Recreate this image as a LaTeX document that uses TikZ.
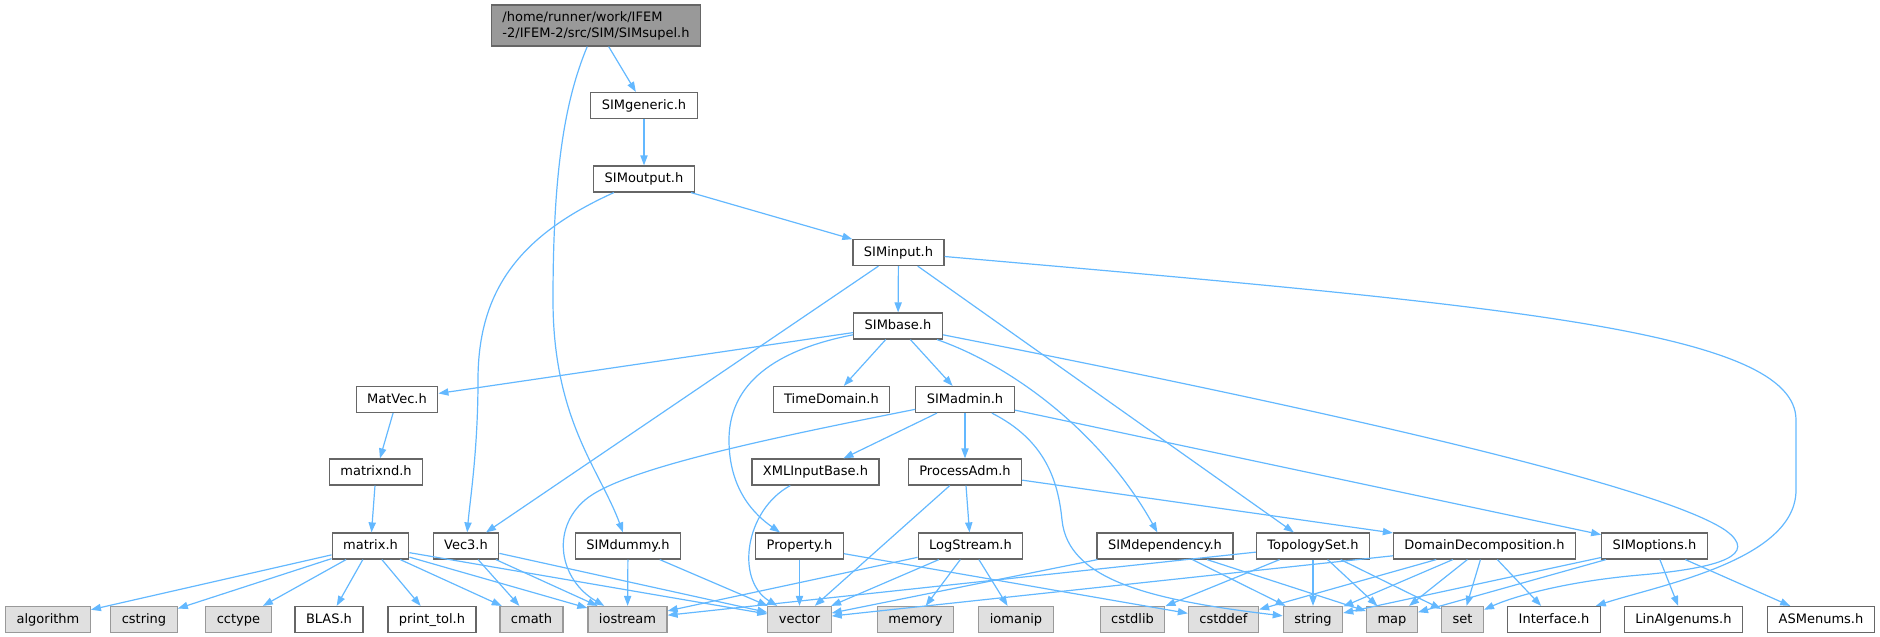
\documentclass[tikz,border=0pt]{standalone}
\usepackage{fontspec}
\setmainfont{DejaVu Sans}
\usetikzlibrary{arrows.meta}

\definecolor{edgeblue}{HTML}{63B8FF}
\definecolor{boxline}{HTML}{666666}
\definecolor{sysline}{HTML}{999999}
\definecolor{sysfill}{HTML}{E0E0E0}
\definecolor{rootfill}{HTML}{999999}

\newcommand\filebox[4]{\node[hfile] (#1) at (#2,#3) {#4};}
\newcommand\sysbox[4]{\node[hsys] (#1) at (#2,#3) {#4};}

\begin{document}
\begin{tikzpicture}[x=0.5pt, y=-0.5pt, font=\fontsize{6.5}{8}\selectfont,
    hfile/.style={draw=boxline, fill=white, line width=0.6pt, minimum height=13pt,
        inner xsep=5.5pt, inner ysep=0pt, text height=5pt, text depth=1.5pt},
    hsys/.style={hfile, draw=sysline, fill=sysfill},
    dep/.style={draw=edgeblue, line width=0.6pt, -{Triangle[length=5pt,width=3.6pt]}}]
    \useasboundingbox (0,0) rectangle (1880,637);

    % the file itself
    \node[hfile, fill=rootfill, align=left, minimum height=20.5pt, text height=, text depth=]
        (root) at (596,25.5) {/home/runner/work/IFEM\\-2/IFEM-2/src/SIM/SIMsupel.h};

    % project headers
    \filebox{generic}{644}{105.5}{SIMgeneric.h}
    \filebox{output}{644}{179}{SIMoutput.h}
    \filebox{input}{898.5}{252.5}{SIMinput.h}
    \filebox{base}{898}{326}{SIMbase.h}
    \filebox{matvec}{397}{399.5}{MatVec.h}
    \filebox{timedom}{831.5}{399.5}{TimeDomain.h}
    \filebox{admin}{965}{399.5}{SIMadmin.h}
    \filebox{matnd}{376}{472}{matrixnd.h}
    \filebox{xmlin}{815.5}{472}{XMLInputBase.h}
    \filebox{procadm}{965}{472}{ProcessAdm.h}
    \filebox{matrix}{370.5}{546}{matrix.h}
    \filebox{vecthree}{466}{546}{Vec3.h}
    \filebox{dummy}{628}{546}{SIMdummy.h}
    \filebox{property}{799.5}{546}{Property.h}
    \filebox{logstr}{970.5}{546}{LogStream.h}
    \filebox{depend}{1165}{546}{SIMdependency.h}
    \filebox{topo}{1313}{546}{TopologySet.h}
    \filebox{domdec}{1484.5}{546}{DomainDecomposition.h}
    \filebox{options}{1654.5}{546}{SIMoptions.h}
    \filebox{blas}{329}{619.5}{BLAS.h}
    \filebox{printtol}{432}{619.5}{print\_tol.h}
    \filebox{iface}{1554}{619.5}{Interface.h}
    \filebox{linalg}{1683.5}{619.5}{LinAlgenums.h}
    \filebox{asmenum}{1821}{619.5}{ASMenums.h}

    % system headers
    \sysbox{algo}{48}{619.5}{algorithm}
    \sysbox{cstr}{144}{619.5}{cstring}
    \sysbox{ctype}{238.5}{619.5}{cctype}
    \sysbox{cmath}{531.5}{619.5}{cmath}
    \sysbox{iostr}{627.5}{619.5}{iostream}
    \sysbox{vector}{799.5}{619.5}{vector}
    \sysbox{memory}{915.5}{619.5}{memory}
    \sysbox{iomanip}{1016}{619.5}{iomanip}
    \sysbox{cstdlib}{1132.5}{619.5}{cstdlib}
    \sysbox{cstddef}{1223.5}{619.5}{cstddef}
    \sysbox{string}{1313}{619.5}{string}
    \sysbox{map}{1392}{619.5}{map}
    \sysbox{set}{1462.5}{619.5}{set}

    % top of the chain
    \draw[dep] (root) -- (generic);
    \draw[dep] (root) .. controls (565,100) and (553,170) .. (553,300)
        .. controls (553,420) and (600,470) .. (dummy);
    \draw[dep] (generic) -- (output);
    \draw[dep] (output) -- (input);
    \draw[dep] (output) .. controls (520,235) and (478,290) .. (478,380)
        .. controls (478,450) and (470,500) .. (vecthree);

    % SIMinput
    \draw[dep] (input) -- (base);
    \draw[dep] (input) -- (vecthree);
    \draw[dep] (input) -- (topo);
    \draw[dep] (input) .. controls (1500,305) and (1796,330) .. (1796,420)
        -- (1796,490) .. controls (1796,560) and (1660,585) .. (iface);

    % SIMbase
    \draw[dep] (base) -- (matvec);
    \draw[dep] (base) -- (timedom);
    \draw[dep] (base) -- (admin);
    \draw[dep] (base) .. controls (765,352) and (729,390) .. (729,440)
        .. controls (729,490) and (755,515) .. (property);
    \draw[dep] (base) .. controls (1010,365) and (1100,430) .. (depend);
    \draw[dep] (base) .. controls (1250,395) and (1650,480) .. (1725,530)
        .. controls (1760,555) and (1720,568) .. (1640,575)
        .. controls (1560,582) and (1510,598) .. (set);

    % matrix classes
    \draw[dep] (matvec) -- (matnd);
    \draw[dep] (matnd) -- (matrix);
    \draw[dep] (matrix) -- (algo);
    \draw[dep] (matrix) -- (cstr);
    \draw[dep] (matrix) -- (ctype);
    \draw[dep] (matrix) -- (blas);
    \draw[dep] (matrix) -- (printtol);
    \draw[dep] (matrix) -- (cmath);
    \draw[dep] (matrix) -- (iostr);
    \draw[dep] (matrix) -- (vector);
    \draw[dep] (vecthree) -- (cmath);
    \draw[dep] (vecthree) -- (iostr);
    \draw[dep] (vecthree) -- (vector);
    \draw[dep] (dummy) -- (iostr);
    \draw[dep] (dummy) -- (vector);

    % SIMadmin
    \draw[dep] (admin) -- (xmlin);
    \draw[dep] (admin) -- (procadm);
    \draw[dep] (admin) -- (options);
    \draw[dep] (admin) .. controls (760,440) and (620,470) .. (585,500)
        .. controls (550,530) and (560,580) .. (iostr);
    \draw[dep] (admin) .. controls (1045,440) and (1058,480) .. (1062,520)
        .. controls (1068,580) and (1150,600) .. (string);
    \draw[dep] (xmlin) .. controls (745,510) and (735,580) .. (vector);
    \draw[dep] (procadm) -- (vector);
    \draw[dep] (procadm) -- (logstr);
    \draw[dep] (procadm) -- (domdec);
    \draw[dep] (property) -- (vector);
    \draw[dep] (property) -- (cstddef);

    % LogStream
    \draw[dep] (logstr) -- (iostr);
    \draw[dep] (logstr) -- (vector);
    \draw[dep] (logstr) -- (memory);
    \draw[dep] (logstr) -- (iomanip);

    % SIMdependency and TopologySet
    \draw[dep] (depend) -- (vector);
    \draw[dep] (depend) -- (string);
    \draw[dep] (depend) -- (map);
    \draw[dep] (topo) -- (iostr);
    \draw[dep] (topo) -- (cstdlib);
    \draw[dep] (topo) -- (string);
    \draw[dep] (topo) -- (map);
    \draw[dep] (topo) -- (set);

    % DomainDecomposition
    \draw[dep] (domdec) -- (vector);
    \draw[dep] (domdec) -- (cstddef);
    \draw[dep] (domdec) -- (string);
    \draw[dep] (domdec) -- (map);
    \draw[dep] (domdec) -- (set);
    \draw[dep] (domdec) -- (iface);

    % SIMoptions
    \draw[dep] (options) -- (string);
    \draw[dep] (options) -- (map);
    \draw[dep] (options) -- (linalg);
    \draw[dep] (options) -- (asmenum);
\end{tikzpicture}
\end{document}
